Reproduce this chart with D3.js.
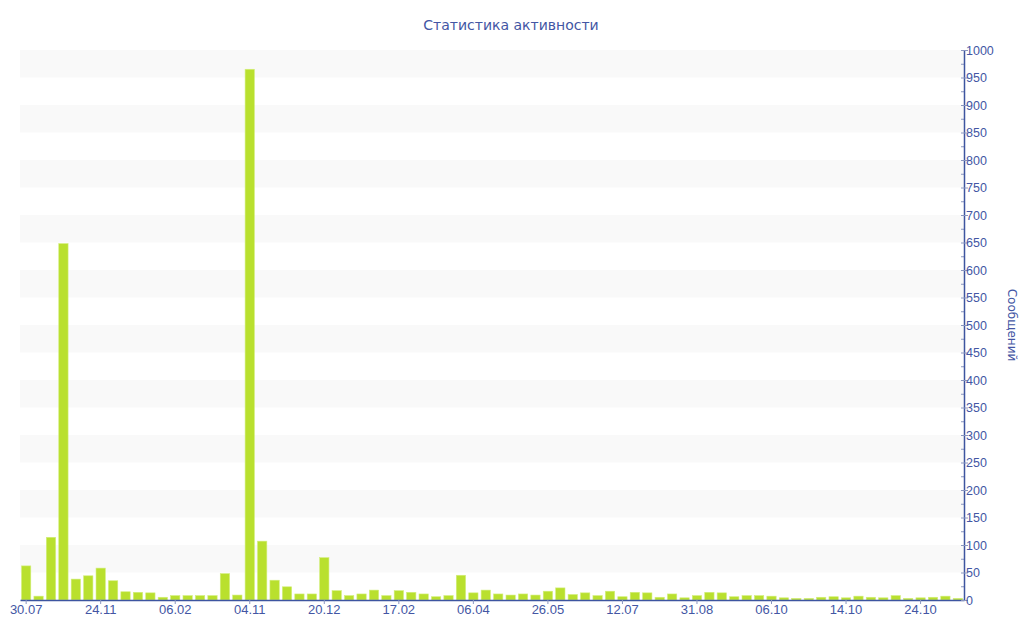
<!DOCTYPE html>
<html>
<head>
<meta charset="utf-8">
<script src="https://cdn.jsdelivr.net/npm/d3@7"></script>
<style>
  body { margin: 0; background: #fff; }
  svg { display: block; font-family: "DejaVu Sans", Verdana, sans-serif; }
</style>
</head>
<body>
<svg id="chart" width="1024" height="640"></svg>
<script>
// weekly message counts, one per bar
var values = [
    62, 7, 114, 648, 38, 44, 58, 35, 15, 14, 13, 5,
    8, 8, 8, 8, 48, 9, 965, 107, 36, 24, 11, 11,
    77, 17, 8, 11, 18, 8, 17, 14, 11, 6, 8, 45,
    13, 18, 11, 9, 11, 9, 16, 22, 10, 13, 8, 16,
    6, 14, 13, 5, 11, 4, 8, 14, 13, 6, 8, 8,
    7, 4, 3, 3, 5, 6, 4, 7, 5, 4, 8, 3,
    4, 5, 7, 3
];
// labels shown under every sixth bar
var tickLabels = ["30.07", "24.11", "06.02", "04.11", "20.12", "17.02", "06.04",
                  "26.05", "12.07", "31.08", "06.10", "14.10", "24.10"];
var yTicks = d3.range(0, 1001, 50);

var titleText = "Статистика активности";
var yAxisTitle = "Сообщений";

var axisColor = "#3d55a0";
var textColor = "#4356a4";

var svg = d3.select("#chart");
var plotLeft = 20, plotRight = 964, plotTop = 50, plotBottom = 600;

var x = d3.scaleBand()
    .domain(d3.range(values.length))
    .range([plotLeft, plotRight])
    .paddingInner(0.25)
    .paddingOuter(0.12);

var y = d3.scaleLinear().domain([0, 1000]).range([plotBottom, plotTop]);

// alternating grey bands
var bands = yTicks.filter(function(d, i) { return i % 2 == 1; });
svg.append("g").selectAll("rect")
    .data(bands)
    .enter().append("rect")
    .attr("x", plotLeft)
    .attr("width", plotRight - plotLeft)
    .attr("y", function(d) { return y(d + 50); })
    .attr("height", function(d) { return y(d) - y(d + 50); })
    .attr("fill", "#f9f9f9");

// bars
svg.append("g").selectAll("rect")
    .data(values)
    .enter().append("rect")
    .attr("x", function(d, i) { return x(i); })
    .attr("width", x.bandwidth())
    .attr("y", function(d) { return y(d); })
    .attr("height", function(d) { return plotBottom - y(d); })
    .attr("fill", "#b9e02e")
    .attr("stroke", "#d3ee7c")
    .attr("stroke-width", 0.6);

// x axis
var xAxis = d3.axisBottom(x)
    .tickValues(d3.range(0, values.length, 6))
    .tickFormat(function(d) { return tickLabels[d / 6]; })
    .tickSize(4)
    .tickSizeOuter(0);
var gx = svg.append("g")
    .attr("transform", "translate(0," + plotBottom + ")")
    .call(xAxis);
gx.select(".domain").attr("stroke", axisColor).attr("stroke-width", 1.5);
gx.selectAll(".tick line").attr("stroke", "#8a96c0");
gx.selectAll(".tick text")
    .attr("fill", textColor)
    .attr("font-size", 13)
    .attr("dy", "0.55em");

// y axis on the right, minor ticks every 25
var yMinor = d3.axisRight(y)
    .tickValues(d3.range(25, 1000, 50))
    .tickSize(-3)
    .tickFormat("");
var gm = svg.append("g")
    .attr("transform", "translate(" + plotRight + ",0)")
    .call(yMinor);
gm.select(".domain").remove();
gm.selectAll(".tick line").attr("stroke", "#8a96c0");

var yAxis = d3.axisRight(y)
    .tickValues(yTicks)
    .tickFormat(d3.format("d"))
    .tickSize(4)
    .tickPadding(0)
    .tickSizeOuter(0);
var gy = svg.append("g")
    .attr("transform", "translate(" + plotRight + ",0)")
    .call(yAxis);
gy.select(".domain").attr("stroke", axisColor).attr("stroke-width", 1.5);
gy.selectAll(".tick line").attr("stroke", "#8a96c0").attr("x1", -3);
gy.selectAll(".tick text")
    .attr("fill", textColor)
    .attr("font-size", 12.5)
    .attr("x", 2);

// titles
svg.append("text")
    .attr("x", 511)
    .attr("y", 30)
    .attr("text-anchor", "middle")
    .attr("font-size", 14)
    .attr("fill", textColor)
    .text(titleText);

svg.append("text")
    .attr("transform", "translate(1008,325) rotate(90)")
    .attr("text-anchor", "middle")
    .attr("font-size", 12)
    .attr("fill", textColor)
    .text(yAxisTitle);
</script>
</body>
</html>
